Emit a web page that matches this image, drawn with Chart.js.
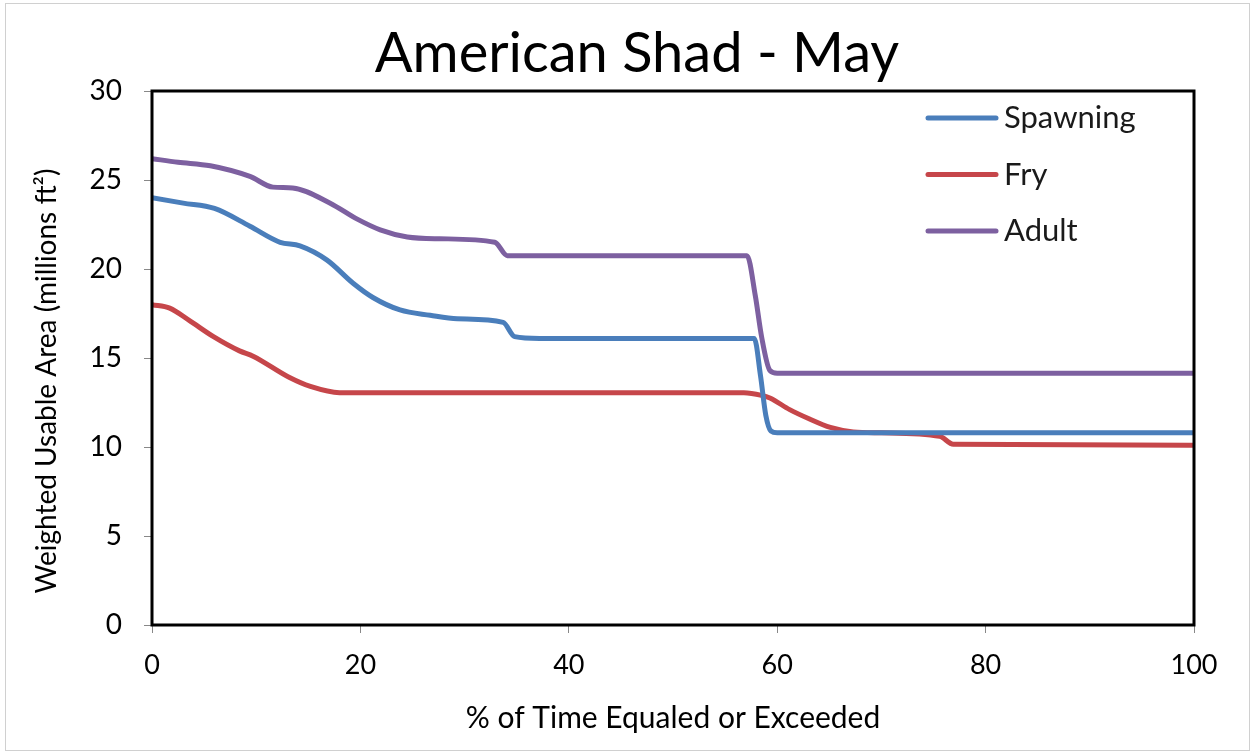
<!DOCTYPE html>
<html>
<head>
<meta charset="utf-8">
<script src="https://cdn.jsdelivr.net/npm/chart.js@4.4.1/dist/chart.umd.min.js"></script>
<style>
  html, body { margin: 0; padding: 0; background: #fff; }
  #wrap { width: 1254px; height: 753px; }
</style>
</head>
<body>
<div id="wrap"><canvas id="chart"></canvas></div>
<script>
// ===== DATA =====
const titleText = 'American Shad - May';
const xTitle = '% of Time Equaled or Exceeded';
const yTitle = 'Weighted Usable Area (millions ft²)';

const spawningX = [0, 3, 6, 9.4, 12.3, 14.2, 16.8, 19.3, 21.2, 23.8, 26.7, 29.3, 33.7, 34.8, 37.2, 57.8, 58.4, 58.9, 59.4, 60, 100];
const spawningY = [24.0, 23.7, 23.4, 22.4, 21.5, 21.3, 20.5, 19.2, 18.4, 17.7, 17.4, 17.2, 17.0, 16.2, 16.1, 16.1, 14.0, 11.8, 10.9, 10.8, 10.8];

const fryX = [0, 1.7, 3.6, 5.9, 8.4, 9.7, 13.2, 15.2, 18.0, 56.8, 58.5, 59.3, 61.2, 63, 65.1, 67.3, 70, 75.6, 76.9, 100];
const fryY = [18.0, 17.8, 17.1, 16.2, 15.4, 15.1, 13.9, 13.4, 13.05, 13.05, 12.9, 12.75, 12.1, 11.6, 11.1, 10.85, 10.8, 10.6, 10.15, 10.1];

const adultX = [0, 2.5, 5.6, 9.4, 11.6, 13.5, 17.1, 19.7, 21.9, 24.5, 27.6, 32.9, 34.1, 57.1, 57.9, 58.5, 59.3, 60, 100];
const adultY = [26.2, 26.0, 25.8, 25.2, 24.6, 24.55, 23.7, 22.8, 22.2, 21.8, 21.7, 21.5, 20.75, 20.75, 18.5, 16.2, 14.3, 14.15, 14.15];

const xTicks = [0, 20, 40, 60, 80, 100];
const yTicks = [0, 5, 10, 15, 20, 25, 30];

const FONT = 'Lato, "Open Sans", sans-serif';
const pts = (xs, ys) => xs.map((x, i) => ({ x, y: ys[i] }));

// frame, plot border, titles and legend
const decor = {
  id: 'decor',
  beforeDraw(chart) {
    const c = chart.ctx;
    c.save();
    c.fillStyle = '#fff';
    c.fillRect(0, 0, chart.width, chart.height);
    c.strokeStyle = '#d0d0d0';
    c.lineWidth = 1;
    c.strokeRect(5.5, 3.5, chart.width - 10, chart.height - 6);
    c.restore();
  },
  afterDraw(chart) {
    const c = chart.ctx;
    const a = chart.chartArea;
    c.save();
    // plot border
    c.strokeStyle = '#000';
    c.lineWidth = 3;
    c.strokeRect(a.left, a.top, a.right - a.left, a.bottom - a.top);
    // title
    c.fillStyle = '#000';
    c.font = '56px ' + FONT;
    c.textAlign = 'center';
    c.textBaseline = 'middle';
    c.fillText(titleText, 637, 54);
    // y axis title
    c.save();
    c.translate(47, 381);
    c.rotate(-Math.PI / 2);
    c.font = '28px ' + FONT;
    c.fillText(yTitle, 0, 0);
    c.restore();
    // legend
    c.font = '31px ' + FONT;
    c.textAlign = 'left';
    chart.data.datasets.forEach((ds, i) => {
      const y = a.top + 27 + i * 56.5;
      c.strokeStyle = ds.borderColor;
      c.lineWidth = 5;
      c.lineCap = 'round';
      c.beginPath();
      c.moveTo(a.right - 266, y);
      c.lineTo(a.right - 198, y);
      c.stroke();
      c.fillStyle = '#1a1a1a';
      c.fillText(ds.label, a.right - 190, y);
    });
    c.restore();
  }
};

const ds = (label, xs, ys, color) => ({
  label, data: pts(xs, ys), borderColor: color, backgroundColor: color,
  borderWidth: 5, pointRadius: 0, cubicInterpolationMode: 'monotone', fill: false
});

new Chart(document.getElementById('chart'), {
  type: 'line',
  data: {
    datasets: [
      ds('Spawning', spawningX, spawningY, '#4a7ebb'),
      ds('Fry', fryX, fryY, '#c6464a'),
      ds('Adult', adultX, adultY, '#7d60a0')
    ]
  },
  options: {
    responsive: true,
    maintainAspectRatio: false,
    animation: false,
    parsing: false,
    layout: { padding: { top: 91, right: 60, left: 0, bottom: 0 } },
    plugins: { legend: { display: false }, title: { display: false }, tooltip: { enabled: false } },
    scales: {
      x: {
        type: 'linear', min: 0, max: 100,
        afterBuildTicks: s => { s.ticks = xTicks.map(v => ({ value: v })); },
        afterFit: s => { s.height = 128; },
        ticks: { color: '#000', font: { family: FONT, size: 27 }, padding: 16, maxRotation: 0 },
        grid: { drawOnChartArea: false, drawTicks: true, tickLength: 8, color: '#888' },
        border: { display: false },
        title: { display: true, text: xTitle, color: '#000', font: { family: FONT, size: 30 }, padding: { top: 6, bottom: 17 } }
      },
      y: {
        type: 'linear', min: 0, max: 30,
        afterBuildTicks: s => { s.ticks = yTicks.map(v => ({ value: v })); },
        afterFit: s => { s.width = 152; },
        ticks: { color: '#000', font: { family: FONT, size: 28 }, padding: 22 },
        grid: { drawOnChartArea: false, drawTicks: true, tickLength: 8, color: '#888' },
        border: { display: false },
        title: { display: false }
      }
    }
  },
  plugins: [decor]
});
</script>
</body>
</html>
